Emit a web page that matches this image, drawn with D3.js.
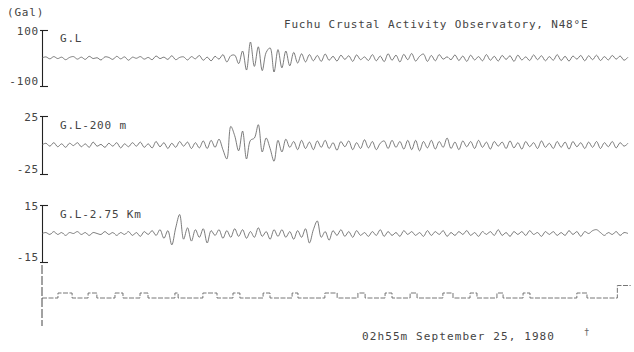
<!DOCTYPE html>
<html><head><meta charset="utf-8">
<script src="https://cdn.jsdelivr.net/npm/d3@7"></script>
<style>
body{margin:0;background:#fff}
svg text{font-family:"DejaVu Sans Mono",monospace;font-size:11px;fill:#444;letter-spacing:0.8px}
</style></head><body>
<svg id="chart" width="634" height="352"></svg>
<script>
// Strong-motion record, three borehole levels plus time code
const title = "Fuchu Crustal Activity Observatory, N48°E";
const unitLabel = "(Gal)";
const dateLabel = "02h55m September 25, 1980";
const channels = ["G.L", "G.L-200 m", "G.L-2.75 Km"];
const fullScale = [100, 25, 15];
const tickLabels = [["100", "-100"], ["25", "-25"], ["15", "-15"]];
const duration = 22; // seconds across the record

// acceleration samples (Gal), evenly spaced over the record
const accelGL = [
  0, 4, -3, 5, -2, 3, -6, 2, 5, -4,
  3, -5, 6, -2, 1, -7, 4, 2, -5, 6,
  -3, 4, -8, 3, -1, 5, -4, 2, -6, 7,
  -2, 3, -5, 8, -6, 2, 4, -7, 5, -3,
  9, -8, 3, -10, 6, -4, 12, -14, 8, 10,
  -20, 25, -43, 57, -30, 40, -45, 20, 36, -50,
  30, -35, 25, -28, 20, -18, 15, -14, 12, -10,
  9, -12, 14, -8, 6, -11, 10, -5, 8, -12,
  11, -6, 4, -9, 12, -10, 7, -13, 15, -8,
  10, -14, 13, -6, 16, -11, 6, 14, -12, 9,
  -10, 12, -4, 4, -6, 11, -9, 7, -12, 10,
  -7, 5, -10, 12, -8, 6, -11, 9, -5, 8,
  -12, 10, -7, 4, -9, 11, -6, 8, -10, 5,
  -8, 12, -9, 6, -11, 7, -4, 9, -10, 8,
  -6, 10, -9, 5, -7, 9, -4, 7, -8, 3
];
const accel200 = [
  0, 1.5, -1, 2, -1.5, 1, -2, 1.5, -0.5, 2,
  -1.5, 1, -2, 2.5, -1, 0.5, -2, 1.5, -1, 2,
  -2.5, 1, -1.5, 2, -1, 2.5, -2, 1, -2.5, 3,
  -1.5, 2, -3, 1.5, -2, 3, -1, 2.5, -3, 2,
  -2.5, 3.5, -3, 4, -2, 5, -4, -12, 16, 8,
  -5, 12, -12, 4, 6, 17.5, -6, 6, -3, -14,
  4, -6, 5, -2, 3, -4, 4, -3, 2.5, -4,
  3.5, -2, 4, -3, 2, -4.5, 3, -1.5, 3.5, -4,
  2, -3, 4.5, -2.5, 3, -4, 1.5, 3.5, -3, 4,
  -2, 3, -3.5, 4, -4, 4, -5, 3, -2.5, 4,
  -3.5, 3, -2, 6, -3, 2.5, -4, 3.5, -1.5, 3,
  -3, 4, -2, 2.5, -3.5, 3, -1, 2.5, -3, 3.5,
  -2.5, 2, -3.5, 3, -1.5, 2, -3, 3.5, -2, 1.5,
  -3, 3, -2, 2.5, -3.5, 3, -1.5, 2, -3, 2.5,
  -2, 3, -3, 2, -1.5, 3, -2.5, 2, -1, 1.5
];
const accel275 = [
  0, 0.5, -0.5, 1, -0.5, 0.5, -1, 0.5, 0, 1,
  -0.5, 0.5, -1, 0.5, 0, -0.5, 1, -0.5, 0.5, -1,
  0.5, -0.5, 1, -1, 0.5, -1.5, 1, -0.5, 1.5, -1,
  2, -2.5, 1.5, -6, 3, 10, -3, 3, -4, 2,
  -2, 2.5, -5, 1.5, -1, 2, -2.5, 1.5, -2, 2.5,
  -1.5, 2, -2.5, 1, -2, 3, -1.5, 1, -3, 2,
  -1.5, 2, -2, 1, -3, 1.5, -2, 2.5, -5, 2,
  6.6, -2, 1, -3.5, 1.5, -1, 2, -1.5, 1, -2,
  1.5, -1, 0.5, -1.5, 1, -1, 2, -1.5, 1, -1,
  0.5, -1.5, 1.5, -0.5, 1, -1, 0.5, -1.5, 1.5, -1,
  1, -0.5, 1.5, -1.5, 0.5, -1, 1, -0.5, 1.5, -1,
  0.5, -1.5, 1, -0.5, 1, -1, 2, -1, 0.5, -1.5,
  1, -0.5, 1, -1, 1.5, -0.5, 0.5, -1.5, 1, -0.5,
  1, -1, 0.5, -1, 1.5, -0.5, 1, -1.5, 1, 0,
  1.5, 2, 0.5, -1, 0.5, -0.5, 1, -1, 0.5, 0
];
const records = [accelGL, accel200, accel275];

// time-code pulses (seconds) and pulse level
const codeStart = [0.60, 1.73, 2.74, 3.68, 4.99, 6.04, 7.17, 8.30, 9.39, 10.62,
  11.86, 12.88, 13.82, 15.05, 16.07, 17.08, 18.06, 20.08, 21.60];
const codeEnd = [1.13, 2.06, 3.04, 3.98, 5.11, 6.57, 7.43, 8.56, 9.61, 11.08,
  12.13, 13.14, 14.08, 15.43, 16.33, 17.31, 18.32, 20.46, 22.10];
const codeLevel = [1, 1, 1, 1, 1, 1, 1, 1, 1, 1, 1, 1, 1, 1, 1, 1, 1, 1, 2.5];

const svg = d3.select("#chart");
const x = d3.scaleLinear().domain([0, duration]).range([42, 628]);

// vertical extent (top, bottom) of each trace panel
const bands = [[30, 86], [116, 174], [205, 262]];
const labelY = [42, 129, 218];

svg.append("text").attr("x", 284).attr("y", 28).text(title);
svg.append("text").attr("x", 7).attr("y", 16).text(unitLabel);

records.forEach((data, k) => {
  const r = fullScale[k];
  const y = d3.scaleLinear().domain([-r, r]).range([bands[k][1], bands[k][0]]);
  const g = svg.append("g").attr("transform", "translate(42,0)");
  const axis = d3.axisLeft(y)
    .tickValues([r, -r])
    .tickSizeInner(-6).tickSizeOuter(0).tickPadding(3)
    .tickFormat((d, i) => tickLabels[k][i]);
  g.call(axis);
  g.select(".domain").attr("stroke", "#222").attr("stroke-width", 1.1);
  g.selectAll(".tick line").attr("x1", -2).attr("stroke", "#222").attr("stroke-width", 1.1);
  g.selectAll(".tick text").attr("font-family", null).attr("font-size", null)
    .style("font-family", "DejaVu Sans Mono").style("font-size", "11px").attr("fill", "#444")
    .attr("dy", (d) => d < 0 ? "-0.15em" : "0.4em");

  svg.append("text").attr("x", 60).attr("y", labelY[k]).text(channels[k]);

  const dt = duration / (data.length - 1);
  const line = d3.line()
    .x((d, i) => x(i * dt))
    .y(d => y(d))
    .curve(d3.curveCatmullRom.alpha(0.5));
  svg.append("path").datum(data)
    .attr("d", line)
    .attr("fill", "none")
    .attr("stroke", "#5a5a5a")
    .attr("stroke-width", 0.8);
});

// time-code trace
const yc = d3.scaleLinear().domain([0, 3]).range([298, 283]);
const pts = [[0, 0]];
codeStart.forEach((s, i) => {
  pts.push([s, codeLevel[i]]);
  pts.push([codeEnd[i], 0]);
});
const last = pts[pts.length - 1];
last[1] = codeLevel[codeLevel.length - 1];
const stepLine = d3.line().x(d => x(d[0])).y(d => yc(d[1])).curve(d3.curveStepAfter);
svg.append("path").datum(pts)
  .attr("d", stepLine)
  .attr("fill", "none")
  .attr("stroke", "#666")
  .attr("stroke-width", 0.9)
  .attr("stroke-dasharray", "5 1.5");

svg.append("line")
  .attr("x1", 42).attr("x2", 42).attr("y1", 265).attr("y2", 326)
  .attr("stroke", "#444").attr("stroke-width", 1)
  .attr("stroke-dasharray", "9 2");

svg.append("text").attr("x", 362).attr("y", 340)
  .style("letter-spacing", "1.1px").text(dateLabel);
svg.append("text").attr("x", 584).attr("y", 335)
  .style("font-size", "9px").style("fill", "#666").text("†");
</script>
</body></html>
